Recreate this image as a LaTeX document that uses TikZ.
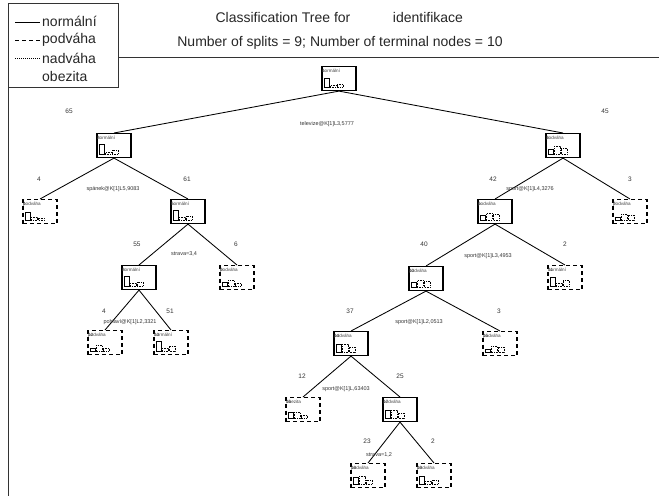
\documentclass[tikz,border=0pt]{standalone}
\usepackage{fontspec}
\setmainfont{Liberation Sans}
\tikzset{
  frameline/.style={line width=1pt, draw=black!80},
  solidbox/.style={draw, line width=1.1pt, minimum width=34pt, minimum height=24pt, inner sep=0pt, anchor=north},
  dashbox/.style={solidbox, dash pattern=on 4pt off 3pt},
  edge/.style={line width=0.85pt},
  cnt/.style={font=\fontsize{6.5}{7}\selectfont, text=black!80, inner sep=0pt},
  splitlab/.style={font=\fontsize{5.5}{6}\selectfont, text=black!80, inner sep=0pt},
  cls/.style={font=\fontsize{4.6}{5}\selectfont, text=black!75, anchor=west, inner sep=0pt},
  bar/.style={line width=0.8pt},
  big/.style={font=\fontsize{14}{16}\selectfont, text=black!85, inner sep=0pt},
}
% name, cx, top, style, id, class, h1, h2, h3
\newcommand\tnode[9]{%
  \node[#4] (#1) at (#2,#3) {};
  \node[cls] (#1c) at ([xshift=0.5pt,yshift=-5pt]#1.north west) {#6};
  \node[cls] (#1i) at ([xshift=0.5pt,yshift=-5pt]#1.north west) {#5};
  \draw[bar] ({#2-15},{#3+21}) rectangle ++(5,{-#7});
  \draw[bar,dash pattern=on 1.5pt off 1pt] ({#2-9},{#3+21}) rectangle ++(6,{-#8});
  \draw[bar,dash pattern=on 0.6pt off 1pt] ({#2-2},{#3+21}) rectangle ++(6,{-#9});
}
\begin{document}
\begin{tikzpicture}[x=1pt,y=-1pt]
\useasboundingbox (0,0) rectangle (659,496);
% frame and legend
\draw[frameline] (8,3) rectangle (118,87);
\draw[frameline] (118,57) -- (659,57);
\draw[frameline] (8,87) -- (8,496);
\coordinate (l1a) at (15,22); \coordinate (l1b) at (40,22);
\coordinate (l2a) at (15,40); \coordinate (l2b) at (40,40);
\coordinate (l3a) at (15,58); \coordinate (l3b) at (40,58);
\draw[line width=0.9pt] (l1a) -- (l1b);
\draw[line width=0.9pt, dash pattern=on 4pt off 3pt] (l2a) -- (l2b);
\draw[line width=0.7pt, dash pattern=on 0.7pt off 1.3pt] (l3a) -- (l3b);
\node[big, anchor=west] (lg1) at (42,21) {normální};
\node[big, anchor=west] (lg2) at (42,39.5) {podváha};
\node[big, anchor=west] (lg3) at (42,58) {nadváha};
\node[big, anchor=west] (lg4) at (42,76.5) {obezita};
% titles
\node[big] (t1) at (283,17) {Classification Tree for};
\node[big] (t2) at (428,17) {identifikace};
\node[big] (t3) at (340,43) {Number of splits = 9; Number of terminal nodes = 10};
% nodes
\tnode{n1}{339}{66}{solidbox}{1}{normální}{9}{2}{3}
\tnode{n2}{114}{133}{solidbox}{2}{normální}{10}{2}{4}
\tnode{n3}{563}{133}{solidbox}{3}{podváha}{5}{8}{6}
\tnode{n4}{40}{199}{dashbox}{4}{podváha}{8}{3}{2}
\tnode{n5}{188}{199}{solidbox}{5}{normální}{10}{3}{4}
\tnode{n6}{495}{199}{solidbox}{6}{podváha}{5}{7}{6}
\tnode{n7}{630}{199}{dashbox}{7}{podváha}{3}{6}{5}
\tnode{n8}{139}{265}{solidbox}{8}{normální}{10}{3}{4}
\tnode{n9}{237}{265}{dashbox}{9}{podváha}{4}{6}{3}
\tnode{n10}{426}{266}{solidbox}{10}{podváha}{5}{7}{6}
\tnode{n11}{565}{265}{dashbox}{11}{normální}{9}{3}{6}
\tnode{n12}{105}{330}{dashbox}{12}{podváha}{3}{6}{3}
\tnode{n13}{171}{330}{dashbox}{13}{normální}{10}{3}{5}
\tnode{n14}{351}{331}{solidbox}{14}{podváha}{8}{8}{5}
\tnode{n15}{500}{331}{dashbox}{15}{podváha}{3}{6}{5}
\tnode{n16}{303}{397}{dashbox}{16}{obezita}{6}{6}{3}
\tnode{n17}{400}{397}{solidbox}{17}{podváha}{8}{8}{5}
\tnode{n18}{368}{463}{dashbox}{18}{podváha}{7}{8}{4}
\tnode{n19}{434}{463}{dashbox}{19}{podváha}{8}{3}{4}
% edges
\draw[edge] (n1.south) -- (n2.north);
\draw[edge] (n1.south) -- (n3.north);
\draw[edge] (n2.south) -- (n4.north);
\draw[edge] (n2.south) -- (n5.north);
\draw[edge] (n3.south) -- (n6.north);
\draw[edge] (n3.south) -- (n7.north);
\draw[edge] (n5.south) -- (n8.north);
\draw[edge] (n5.south) -- (n9.north);
\draw[edge] (n6.south) -- (n10.north);
\draw[edge] (n6.south) -- (n11.north);
\draw[edge] (n8.south) -- (n12.north);
\draw[edge] (n8.south) -- (n13.north);
\draw[edge] (n10.south) -- (n14.north);
\draw[edge] (n10.south) -- (n15.north);
\draw[edge] (n14.south) -- (n16.north);
\draw[edge] (n14.south) -- (n17.north);
\draw[edge] (n17.south) -- (n18.north);
\draw[edge] (n17.south) -- (n19.north);
% counts and split labels
\node[cnt] (c2) at (69,111) {65};
\node[cnt] (c3) at (605,111) {45};
\node[splitlab] (s1) at (327,124) {televize@K[1]L3,5777};
\node[cnt] (c4) at (39,179) {4};
\node[cnt] (c5) at (187,179) {61};
\node[splitlab] (s2) at (113,189) {spánek@K[1]L5,9083};
\node[cnt] (c6) at (493,179) {42};
\node[cnt] (c7) at (630,179) {3};
\node[splitlab] (s3) at (530,189) {sport@K[1]L4,3276};
\node[cnt] (c8) at (137,244) {55};
\node[cnt] (c9) at (236,244) {6};
\node[splitlab] (s5) at (184,254) {strava=3,4};
\node[cnt] (c10) at (424,244) {40};
\node[cnt] (c11) at (565,244) {2};
\node[splitlab] (s6) at (488,256) {sport@K[1]L3,4953};
\node[cnt] (c12) at (104,311) {4};
\node[cnt] (c13) at (170,311) {51};
\node[splitlab] (s8) at (130,322) {pohlaví@K[1]L2,3321};
\node[cnt] (c14) at (350,311) {37};
\node[cnt] (c15) at (499,311) {3};
\node[splitlab] (s10) at (419,322) {sport@K[1]L2,0513};
\node[cnt] (c16) at (302,376) {12};
\node[cnt] (c17) at (400,376) {25};
\node[splitlab] (s14) at (346,389) {sport@K[1]L,63403};
\node[cnt] (c18) at (367,441) {23};
\node[cnt] (c19) at (433,441) {2};
\node[splitlab] (s17) at (379,455) {strava=1,2};
\end{tikzpicture}
\end{document}
